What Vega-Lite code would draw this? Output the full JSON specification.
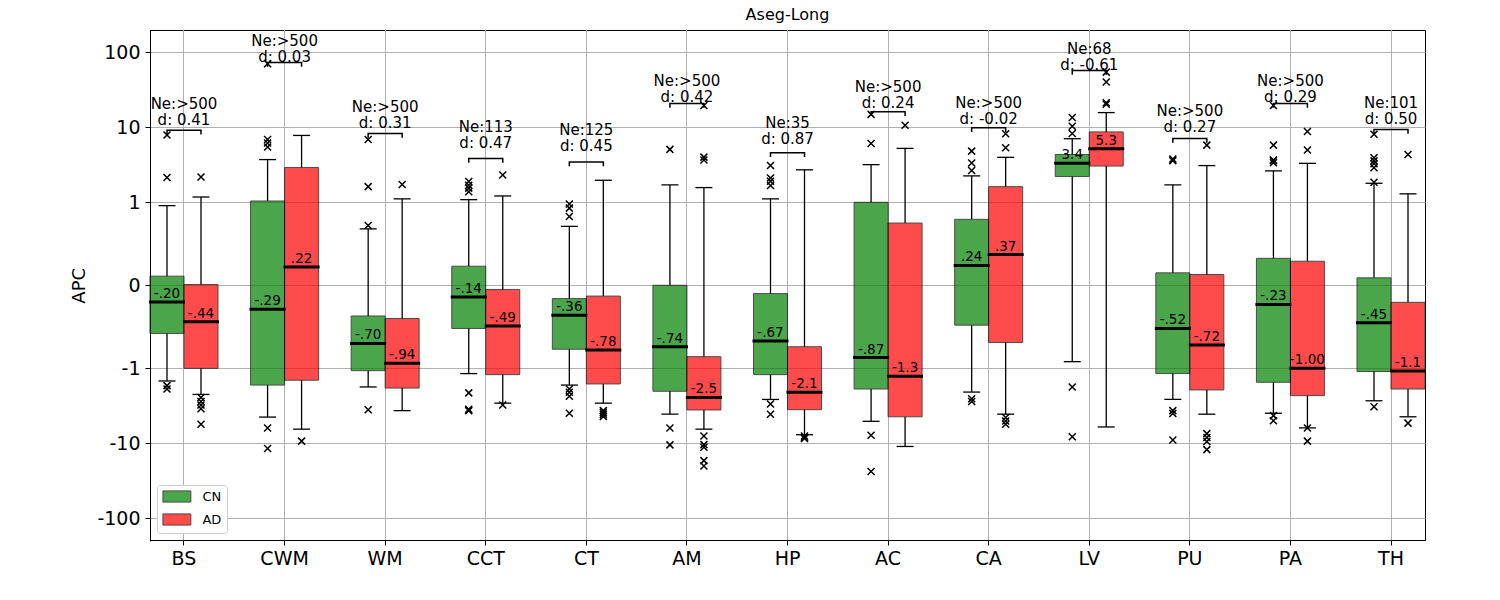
{
  "$schema": "https://vega.github.io/schema/vega-lite/v6.json",
  "width": 1275,
  "height": 510,
  "autosize": "none",
  "padding": {"left": 150, "top": 30, "right": 75, "bottom": 60},
  "title": {"text": "Aseg-Long", "fontSize": 16, "fontWeight": "normal", "font": "DejaVu Sans", "offset": 7, "color": "black"},
  "config": {
    "font": "DejaVu Sans",
    "view": {"stroke": "black", "strokeWidth": 1},
    "axis": {"gridColor": "#b0b0b0", "gridWidth": 1, "gridOpacity": 1, "domainColor": "black", "tickColor": "black", "tickSize": 5, "labelColor": "black", "titleColor": "black", "labelFont": "DejaVu Sans", "titleFont": "DejaVu Sans"},
    "legend": {"orient": "bottom-left", "offset": 7, "symbolType": "M-2.5,-1H2.5V1H-2.5Z", "symbolSize": 125, "symbolOffset": 8.4, "symbolOpacity": 0.7, "symbolStrokeColor": "black", "symbolStrokeWidth": 1, "labelFontSize": 13, "labelFont": "DejaVu Sans", "labelColor": "black", "padding": 5, "strokeColor": "#cccccc", "fillColor": "white", "cornerRadius": 3, "rowPadding": 6, "labelOffset": 19}
  },
  "datasets": {
    "boxes": [
      {"cat": "BS", "group": "CN", "wlo": -1.48, "q1": -0.58, "med": -0.20, "q3": 0.11, "whi": 0.96, "mlabel": "-.20"},
      {"cat": "BS", "group": "AD", "wlo": -2.27, "q1": -1.0, "med": -0.44, "q3": 0.01, "whi": 1.2, "mlabel": "-.44"},
      {"cat": "CWM", "group": "CN", "wlo": -4.5, "q1": -1.69, "med": -0.29, "q3": 1.05, "whi": 3.74, "mlabel": "-.29"},
      {"cat": "CWM", "group": "AD", "wlo": -6.5, "q1": -1.45, "med": 0.22, "q3": 2.93, "whi": 7.8, "mlabel": ".22"},
      {"cat": "WM", "group": "CN", "wlo": -1.79, "q1": -1.09, "med": -0.70, "q3": -0.37, "whi": 0.68, "mlabel": "-.70"},
      {"cat": "WM", "group": "AD", "wlo": -3.7, "q1": -1.85, "med": -0.94, "q3": -0.40, "whi": 1.13, "mlabel": "-.94"},
      {"cat": "CCT", "group": "CN", "wlo": -1.2, "q1": -0.52, "med": -0.14, "q3": 0.23, "whi": 1.1, "mlabel": "-.14"},
      {"cat": "CCT", "group": "AD", "wlo": -2.93, "q1": -1.24, "med": -0.49, "q3": -0.05, "whi": 1.24, "mlabel": "-.49"},
      {"cat": "CT", "group": "CN", "wlo": -1.69, "q1": -0.77, "med": -0.36, "q3": -0.16, "whi": 0.71, "mlabel": "-.36"},
      {"cat": "CT", "group": "AD", "wlo": -2.93, "q1": -1.63, "med": -0.78, "q3": -0.13, "whi": 1.97, "mlabel": "-.78"},
      {"cat": "AM", "group": "CN", "wlo": -4.1, "q1": -2.03, "med": -0.74, "q3": 0.0, "whi": 1.72, "mlabel": "-.74"},
      {"cat": "AM", "group": "AD", "wlo": -6.5, "q1": -3.63, "med": -2.5, "q3": -0.86, "whi": 1.58, "mlabel": "-2.5"},
      {"cat": "HP", "group": "CN", "wlo": -2.65, "q1": -1.24, "med": -0.67, "q3": -0.10, "whi": 1.13, "mlabel": "-.67"},
      {"cat": "HP", "group": "AD", "wlo": -7.7, "q1": -3.6, "med": -2.1, "q3": -0.74, "whi": 2.75, "mlabel": "-2.1"},
      {"cat": "AC", "group": "CN", "wlo": -5.1, "q1": -1.9, "med": -0.87, "q3": 1.0, "whi": 3.2, "mlabel": "-.87"},
      {"cat": "AC", "group": "AD", "wlo": -11.2, "q1": -4.46, "med": -1.3, "q3": 0.75, "whi": 5.25, "mlabel": "-1.3"},
      {"cat": "CA", "group": "CN", "wlo": -2.09, "q1": -0.48, "med": 0.24, "q3": 0.795, "whi": 2.29, "mlabel": ".24"},
      {"cat": "CA", "group": "AD", "wlo": -4.1, "q1": -0.69, "med": 0.37, "q3": 1.63, "whi": 3.98, "mlabel": ".37"},
      {"cat": "LV", "group": "CN", "wlo": -0.92, "q1": 2.24, "med": 3.35, "q3": 4.37, "whi": 7.05, "mlabel": "3.4"},
      {"cat": "LV", "group": "AD", "wlo": -6.06, "q1": 3.05, "med": 5.2, "q3": 8.74, "whi": 15.8, "mlabel": "5.3"},
      {"cat": "PU", "group": "CN", "wlo": -2.65, "q1": -1.2, "med": -0.52, "q3": 0.15, "whi": 1.72, "mlabel": "-.52"},
      {"cat": "PU", "group": "AD", "wlo": -4.1, "q1": -1.95, "med": -0.72, "q3": 0.13, "whi": 3.1, "mlabel": "-.72"},
      {"cat": "PA", "group": "CN", "wlo": -3.98, "q1": -1.54, "med": -0.23, "q3": 0.325, "whi": 2.67, "mlabel": "-.23"},
      {"cat": "PA", "group": "AD", "wlo": -6.25, "q1": -2.36, "med": -1.0, "q3": 0.29, "whi": 3.34, "mlabel": "-1.00"},
      {"cat": "TH", "group": "CN", "wlo": -2.75, "q1": -1.12, "med": -0.45, "q3": 0.09, "whi": 1.81, "mlabel": "-.45"},
      {"cat": "TH", "group": "AD", "wlo": -4.46, "q1": -1.9, "med": -1.1, "q3": -0.205, "whi": 1.32, "mlabel": "-1.1"}
    ],
    "outliers": [
      {"cat": "BS", "group": "CN", "v": 7.9}, {"cat": "BS", "group": "CN", "v": 2.17}, {"cat": "BS", "group": "CN", "v": -1.72}, {"cat": "BS", "group": "CN", "v": -1.9},
      {"cat": "BS", "group": "AD", "v": 2.2}, {"cat": "BS", "group": "AD", "v": -2.5}, {"cat": "BS", "group": "AD", "v": -2.8}, {"cat": "BS", "group": "AD", "v": -3.1}, {"cat": "BS", "group": "AD", "v": -3.5}, {"cat": "BS", "group": "AD", "v": -5.6},
      {"cat": "CWM", "group": "CN", "v": 71}, {"cat": "CWM", "group": "CN", "v": 6.9}, {"cat": "CWM", "group": "CN", "v": 6.2}, {"cat": "CWM", "group": "CN", "v": 5.5}, {"cat": "CWM", "group": "CN", "v": -6.25}, {"cat": "CWM", "group": "CN", "v": -12.0},
      {"cat": "CWM", "group": "AD", "v": -9.4},
      {"cat": "WM", "group": "CN", "v": 6.9}, {"cat": "WM", "group": "CN", "v": 1.63}, {"cat": "WM", "group": "CN", "v": 0.72}, {"cat": "WM", "group": "CN", "v": -3.6},
      {"cat": "WM", "group": "AD", "v": 1.74},
      {"cat": "CCT", "group": "CN", "v": 1.4}, {"cat": "CCT", "group": "CN", "v": 1.55}, {"cat": "CCT", "group": "CN", "v": 1.7}, {"cat": "CCT", "group": "CN", "v": 1.9}, {"cat": "CCT", "group": "CN", "v": -2.15}, {"cat": "CCT", "group": "CN", "v": -3.55}, {"cat": "CCT", "group": "CN", "v": -3.7},
      {"cat": "CCT", "group": "AD", "v": 2.36}, {"cat": "CCT", "group": "AD", "v": -3.1},
      {"cat": "CT", "group": "CN", "v": 0.83}, {"cat": "CT", "group": "CN", "v": 0.93}, {"cat": "CT", "group": "CN", "v": 0.98}, {"cat": "CT", "group": "CN", "v": -1.9}, {"cat": "CT", "group": "CN", "v": -2.1}, {"cat": "CT", "group": "CN", "v": -2.4}, {"cat": "CT", "group": "CN", "v": -3.98},
      {"cat": "CT", "group": "AD", "v": -3.7}, {"cat": "CT", "group": "AD", "v": -3.9}, {"cat": "CT", "group": "AD", "v": -4.1}, {"cat": "CT", "group": "AD", "v": -4.4},
      {"cat": "AM", "group": "CN", "v": 5.09}, {"cat": "AM", "group": "CN", "v": -6.25}, {"cat": "AM", "group": "CN", "v": -10.6},
      {"cat": "AM", "group": "AD", "v": 19.6}, {"cat": "AM", "group": "AD", "v": 3.7}, {"cat": "AM", "group": "AD", "v": 4.0}, {"cat": "AM", "group": "AD", "v": -8.0}, {"cat": "AM", "group": "AD", "v": -10.5}, {"cat": "AM", "group": "AD", "v": -11.5}, {"cat": "AM", "group": "AD", "v": -17.2}, {"cat": "AM", "group": "AD", "v": -20.1},
      {"cat": "HP", "group": "CN", "v": 3.1}, {"cat": "HP", "group": "CN", "v": 2.13}, {"cat": "HP", "group": "CN", "v": 1.92}, {"cat": "HP", "group": "CN", "v": 1.69}, {"cat": "HP", "group": "CN", "v": -3.0}, {"cat": "HP", "group": "CN", "v": -4.1},
      {"cat": "HP", "group": "AD", "v": -8.0}, {"cat": "HP", "group": "AD", "v": -8.4}, {"cat": "HP", "group": "AD", "v": -8.7},
      {"cat": "AC", "group": "CN", "v": 14.9}, {"cat": "AC", "group": "CN", "v": 6.1}, {"cat": "AC", "group": "CN", "v": -7.8}, {"cat": "AC", "group": "CN", "v": -24.3},
      {"cat": "AC", "group": "AD", "v": 10.8},
      {"cat": "CA", "group": "CN", "v": 4.83}, {"cat": "CA", "group": "CN", "v": 3.37}, {"cat": "CA", "group": "CN", "v": 2.7}, {"cat": "CA", "group": "CN", "v": -2.6}, {"cat": "CA", "group": "CN", "v": -2.8},
      {"cat": "CA", "group": "AD", "v": 8.2}, {"cat": "CA", "group": "AD", "v": 5.35}, {"cat": "CA", "group": "AD", "v": -4.56}, {"cat": "CA", "group": "AD", "v": -5.04}, {"cat": "CA", "group": "AD", "v": -5.58},
      {"cat": "LV", "group": "CN", "v": 8.3}, {"cat": "LV", "group": "CN", "v": 10.4}, {"cat": "LV", "group": "CN", "v": 13.7}, {"cat": "LV", "group": "CN", "v": -1.79}, {"cat": "LV", "group": "CN", "v": -8.2},
      {"cat": "LV", "group": "AD", "v": 20.3}, {"cat": "LV", "group": "AD", "v": 21.5}, {"cat": "LV", "group": "AD", "v": 40.2}, {"cat": "LV", "group": "AD", "v": 54.6},
      {"cat": "PU", "group": "CN", "v": 3.63}, {"cat": "PU", "group": "CN", "v": 3.8}, {"cat": "PU", "group": "CN", "v": -3.7}, {"cat": "PU", "group": "CN", "v": -4.0}, {"cat": "PU", "group": "CN", "v": -9.1},
      {"cat": "PU", "group": "AD", "v": 5.8}, {"cat": "PU", "group": "AD", "v": -7.45}, {"cat": "PU", "group": "AD", "v": -8.4}, {"cat": "PU", "group": "AD", "v": -9.5}, {"cat": "PU", "group": "AD", "v": -12.4},
      {"cat": "PA", "group": "CN", "v": 19.6}, {"cat": "PA", "group": "CN", "v": 5.8}, {"cat": "PA", "group": "CN", "v": 3.4}, {"cat": "PA", "group": "CN", "v": 3.63}, {"cat": "PA", "group": "CN", "v": 3.7}, {"cat": "PA", "group": "CN", "v": -4.3}, {"cat": "PA", "group": "CN", "v": -5.0},
      {"cat": "PA", "group": "AD", "v": 8.85}, {"cat": "PA", "group": "AD", "v": 4.98}, {"cat": "PA", "group": "AD", "v": -6.25}, {"cat": "PA", "group": "AD", "v": -9.4},
      {"cat": "TH", "group": "CN", "v": 8.07}, {"cat": "TH", "group": "CN", "v": 3.93}, {"cat": "TH", "group": "CN", "v": 3.6}, {"cat": "TH", "group": "CN", "v": 3.3}, {"cat": "TH", "group": "CN", "v": 2.9}, {"cat": "TH", "group": "CN", "v": 1.86}, {"cat": "TH", "group": "CN", "v": -3.28},
      {"cat": "TH", "group": "AD", "v": 4.37}, {"cat": "TH", "group": "AD", "v": -5.4}
    ],
    "ann": [
      {"cat": "BS", "ne": "Ne:>500", "dtext": "d: 0.41", "bracket": 9.2, "ty": 10.7},
      {"cat": "CWM", "ne": "Ne:>500", "dtext": "d: 0.03", "bracket": 74, "ty": 74.3},
      {"cat": "WM", "ne": "Ne:>500", "dtext": "d: 0.31", "bracket": 8.3, "ty": 9.9},
      {"cat": "CCT", "ne": "Ne:113", "dtext": "d: 0.47", "bracket": 3.86, "ty": 5.35},
      {"cat": "CT", "ne": "Ne:125", "dtext": "d: 0.45", "bracket": 3.48, "ty": 4.83},
      {"cat": "AM", "ne": "Ne:>500", "dtext": "d: 0.42", "bracket": 20.9, "ty": 22.4},
      {"cat": "HP", "ne": "Ne:35", "dtext": "d: 0.87", "bracket": 4.6, "ty": 5.93},
      {"cat": "AC", "ne": "Ne:>500", "dtext": "d: 0.24", "bracket": 16.3, "ty": 18.2},
      {"cat": "CA", "ne": "Ne:>500", "dtext": "d: -0.02", "bracket": 9.9, "ty": 11.3},
      {"cat": "LV", "ne": "Ne:68", "dtext": "d: -0.61", "bracket": 57.5, "ty": 58},
      {"cat": "PU", "ne": "Ne:>500", "dtext": "d: 0.27", "bracket": 7.1, "ty": 8.65},
      {"cat": "PA", "ne": "Ne:>500", "dtext": "d: 0.29", "bracket": 20.9, "ty": 22.4},
      {"cat": "TH", "ne": "Ne:101", "dtext": "d: 0.50", "bracket": 9.4, "ty": 11.2}
    ]
  },
  "encoding": {
    "x": {
      "field": "cat", "type": "nominal", "title": null,
      "sort": ["BS", "CWM", "WM", "CCT", "CT", "AM", "HP", "AC", "CA", "LV", "PU", "PA", "TH"],
      "scale": {"paddingInner": 0.324, "paddingOuter": 0},
      "axis": {"labelAngle": 0, "labelFontSize": 19, "grid": true, "bandPosition": 0.5, "labelPadding": 4, "ticks": true}
    }
  },
  "layer": [
    {
      "data": {"name": "boxes"},
      "mark": {"type": "rule", "color": "black", "strokeWidth": 1.3},
      "encoding": {
        "xOffset": {"field": "group", "sort": ["CN", "AD"], "scale": {"paddingInner": 0, "paddingOuter": 0}},
        "y": {"field": "wlo", "type": "quantitative", "title": "APC",
              "scale": {"nice": false, "zero": false, "domain": [-200, -150, -100, -80, -60, -50, -40, -30, -20, -15, -10, -8, -7, -6, -5, -4, -3, -2, -1.5, -1, 0, 1, 1.5, 2, 3, 4, 5, 6, 7, 8, 10, 15, 20, 30, 40, 50, 60, 80, 100, 150, 200], "range": [510.88, 501.51, 488.3, 481.03, 471.66, 465.72, 458.45, 449.08, 435.88, 426.51, 413.3, 406.03, 401.68, 396.66, 390.72, 383.45, 374.08, 360.88, 351.51, 338.3, 255.3, 172.3, 159.09, 149.72, 136.52, 127.15, 119.88, 113.94, 108.92, 104.57, 97.3, 84.09, 74.72, 61.52, 52.15, 44.88, 38.94, 29.57, 22.3, 9.09, -0.28]},
              "axis": {"values": [-100, -10, -1, 0, 1, 10, 100], "labelExpr": "'' + datum.value", "labelFontSize": 19, "titleFontSize": 18, "titleFontWeight": "normal", "titlePadding": 8, "labelPadding": 5, "grid": true}},
        "y2": {"field": "q1"}
      }
    },
    {
      "data": {"name": "boxes"},
      "mark": {"type": "rule", "color": "black", "strokeWidth": 1.3},
      "encoding": {
        "xOffset": {"field": "group", "sort": ["CN", "AD"], "scale": {"paddingInner": 0, "paddingOuter": 0}},
        "y": {"field": "q3", "type": "quantitative", "title": "APC"},
        "y2": {"field": "whi"}
      }
    },
    {
      "data": {"name": "boxes"},
      "mark": {"type": "tick", "color": "black", "size": 17, "thickness": 1.3, "opacity": 1},
      "encoding": {
        "xOffset": {"field": "group", "sort": ["CN", "AD"], "scale": {"paddingInner": 0, "paddingOuter": 0}},
        "y": {"field": "wlo", "type": "quantitative", "title": "APC"}
      }
    },
    {
      "data": {"name": "boxes"},
      "mark": {"type": "tick", "color": "black", "size": 17, "thickness": 1.3, "opacity": 1},
      "encoding": {
        "xOffset": {"field": "group", "sort": ["CN", "AD"], "scale": {"paddingInner": 0, "paddingOuter": 0}},
        "y": {"field": "whi", "type": "quantitative", "title": "APC"}
      }
    },
    {
      "data": {"name": "boxes"},
      "mark": {"type": "bar", "opacity": 0.7, "stroke": "black", "strokeWidth": 1},
      "encoding": {
        "xOffset": {"field": "group", "sort": ["CN", "AD"], "scale": {"paddingInner": 0, "paddingOuter": 0}},
        "y": {"field": "q1", "type": "quantitative", "title": "APC"},
        "y2": {"field": "q3"},
        "color": {"field": "group", "type": "nominal", "scale": {"domain": ["CN", "AD"], "range": ["green", "red"]}, "legend": {"title": null}}
      }
    },
    {
      "data": {"name": "boxes"},
      "mark": {"type": "tick", "color": "black", "size": 36, "thickness": 3, "opacity": 1},
      "encoding": {
        "xOffset": {"field": "group", "sort": ["CN", "AD"], "scale": {"paddingInner": 0, "paddingOuter": 0}},
        "y": {"field": "med", "type": "quantitative", "title": "APC"}
      }
    },
    {
      "data": {"name": "boxes"},
      "mark": {"type": "text", "fontSize": 13.5, "baseline": "alphabetic", "align": "center", "dy": -4, "color": "black"},
      "encoding": {
        "xOffset": {"field": "group", "sort": ["CN", "AD"], "scale": {"paddingInner": 0, "paddingOuter": 0}},
        "y": {"field": "med", "type": "quantitative", "title": "APC"},
        "text": {"field": "mlabel"}
      }
    },
    {
      "data": {"name": "outliers"},
      "mark": {"type": "point", "shape": "M-1,-1L1,1M1,-1L-1,1", "size": 49, "filled": false, "stroke": "black", "strokeWidth": 1.5, "opacity": 1},
      "encoding": {
        "xOffset": {"field": "group", "sort": ["CN", "AD"], "scale": {"paddingInner": 0, "paddingOuter": 0}},
        "y": {"field": "v", "type": "quantitative", "title": "APC"}
      }
    },
    {
      "data": {"name": "ann"},
      "mark": {"type": "point", "shape": "M-1,0.25L-1,0L1,0L1,0.25", "size": 1156, "filled": false, "stroke": "black", "strokeWidth": 1.5, "opacity": 1},
      "encoding": {
        "y": {"field": "bracket", "type": "quantitative", "title": "APC"}
      }
    },
    {
      "data": {"name": "ann"},
      "mark": {"type": "text", "fontSize": 15, "baseline": "alphabetic", "align": "center", "color": "black"},
      "encoding": {
        "y": {"field": "ty", "type": "quantitative", "title": "APC"},
        "text": {"field": "dtext"}
      }
    },
    {
      "data": {"name": "ann"},
      "mark": {"type": "text", "fontSize": 15, "baseline": "alphabetic", "align": "center", "dy": -16, "color": "black"},
      "encoding": {
        "y": {"field": "ty", "type": "quantitative", "title": "APC"},
        "text": {"field": "ne"}
      }
    }
  ]
}
